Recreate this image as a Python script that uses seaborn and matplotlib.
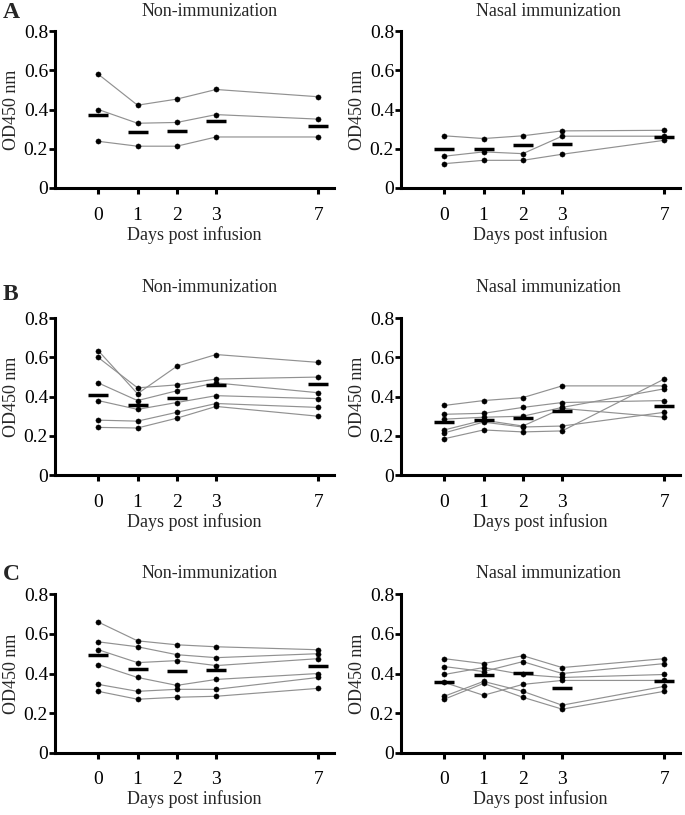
import matplotlib
matplotlib.use("Agg")
import matplotlib.pyplot as plt
import seaborn as sns
import pandas as pd
import numpy as np

sns.set_theme(style="ticks")
plt.rcParams['font.family'] = ['Liberation Serif', 'DejaVu Serif']

days = [0, 1, 2, 3, 7]
day_tick_labels = ["0", "1", "2", "3", "7"]
y_ticks = [0, 0.2, 0.4, 0.6, 0.8]
y_tick_labels = ["0", "0.2", "0.4", "0.6", "0.8"]

# Panel A
a_non = [
    [0.58, 0.422, 0.453, 0.502, 0.465],
    [0.40, 0.330, 0.334, 0.374, 0.351],
    [0.238, 0.213, 0.213, 0.260, 0.260],
]
a_non_mean = [0.371, 0.283, 0.289, 0.342, 0.315]
a_nasal = [
    [0.266, 0.252, 0.266, 0.291, 0.294],
    [0.162, 0.184, 0.175, 0.264, 0.264],
    [0.124, 0.141, 0.141, 0.172, 0.243],
]
a_nasal_mean = [0.197, 0.197, 0.220, 0.223, 0.260]

# Panel B
b_non = [
    [0.635, 0.415, 0.555, 0.615, 0.575],
    [0.600, 0.445, 0.460, 0.490, 0.500],
    [0.470, 0.380, 0.430, 0.470, 0.420],
    [0.380, 0.335, 0.370, 0.405, 0.390],
    [0.280, 0.275, 0.320, 0.365, 0.345],
    [0.243, 0.240, 0.290, 0.350, 0.300],
]
b_non_mean = [0.410, 0.355, 0.395, 0.460, 0.465]
b_nasal = [
    [0.355, 0.380, 0.395, 0.455, 0.455],
    [0.310, 0.315, 0.345, 0.370, 0.380],
    [0.285, 0.295, 0.300, 0.345, 0.440],
    [0.230, 0.280, 0.250, 0.340, 0.295],
    [0.215, 0.270, 0.245, 0.250, 0.320],
    [0.185, 0.230, 0.220, 0.225, 0.490],
]
b_nasal_mean = [0.272, 0.280, 0.290, 0.325, 0.352]

# Panel C
c_non = [
    [0.660, 0.565, 0.545, 0.535, 0.520],
    [0.560, 0.535, 0.495, 0.480, 0.500],
    [0.520, 0.455, 0.465, 0.440, 0.475],
    [0.445, 0.380, 0.340, 0.370, 0.400],
    [0.345, 0.310, 0.320, 0.320, 0.380],
    [0.310, 0.270, 0.280, 0.285, 0.325],
]
c_non_mean = [0.495, 0.425, 0.415, 0.420, 0.440]
c_nasal = [
    [0.475, 0.450, 0.490, 0.430, 0.475],
    [0.435, 0.410, 0.460, 0.400, 0.450],
    [0.395, 0.430, 0.395, 0.380, 0.395],
    [0.355, 0.290, 0.345, 0.365, 0.365],
    [0.285, 0.360, 0.310, 0.240, 0.335],
    [0.270, 0.350, 0.280, 0.220, 0.310],
]
c_nasal_mean = [0.358, 0.392, 0.405, 0.325, 0.362]

panels = [
    ("A", "Non-immunization", a_non, a_non_mean, "Nasal immunization", a_nasal, a_nasal_mean),
    ("B", "Non-immunization", b_non, b_non_mean, "Nasal immunization", b_nasal, b_nasal_mean),
    ("C", "Non-immunization", c_non, c_non_mean, "Nasal immunization", c_nasal, c_nasal_mean),
]

# layout: x positions on the axis (day 7 placed after a gap)
x_pos = {0: 0.0, 1: 1.0, 2: 2.0, 3: 3.0, 7: 5.6}

W, H = 685, 815
fig = plt.figure(figsize=(W / 100, H / 100), dpi=100)

row_geom = [(31, 188), (318.3, 475), (594.3, 752.7)]  # (top px, bottom px)
col_left = [55, 401]
ax_w = 279
title_y = [12, 288, 573]
title_x = [210, 548]
letter_y = [13, 295, 575]


def long_df(series):
    rows = []
    for sid, vals in enumerate(series):
        for d, v in zip(days, vals):
            rows.append({"subject": sid, "day": d, "x": x_pos[d], "od": v})
    return pd.DataFrame(rows)


for r, (letter, t1, s1, m1, t2, s2, m2) in enumerate(panels):
    top, bot = row_geom[r]
    for c, (title, series, means) in enumerate([(t1, s1, m1), (t2, s2, m2)]):
        ax = fig.add_axes([col_left[c] / W, 1 - bot / H, ax_w / W, (bot - top) / H])
        df = long_df(series)
        sns.lineplot(data=df, x="x", y="od", units="subject", estimator=None,
                     color="#919191", linewidth=0.85, ax=ax, legend=False)
        sns.scatterplot(data=df, x="x", y="od", color="black", s=14,
                        edgecolor="black", linewidth=0.3, ax=ax, legend=False, zorder=3)
        mdf = pd.DataFrame({"x": [x_pos[d] for d in days], "od": means})
        sns.scatterplot(data=mdf, x="x", y="od", marker="_", s=190, color="black",
                        linewidth=2.5, ax=ax, legend=False, zorder=4)
        ax.set_xlim(-1.1, 6.0)
        ax.set_ylim(0, 0.8)
        ax.set_xticks([x_pos[d] for d in days])
        ax.set_xticklabels(day_tick_labels)
        ax.set_yticks(y_ticks)
        ax.set_yticklabels(y_tick_labels)
        for sp in ["top", "right"]:
            ax.spines[sp].set_visible(False)
        for sp in ["left", "bottom"]:
            ax.spines[sp].set_linewidth(2.2)
            ax.spines[sp].set_color("black")
        ax.tick_params(axis="x", length=4.5, width=2.2, pad=9, labelsize=14, colors="black")
        ax.tick_params(axis="y", length=4, width=2.0, pad=1, labelsize=14, colors="black")
        ax.set_xlabel("Days post infusion", fontsize=13, labelpad=1.5)
        ax.set_ylabel("OD450 nm", fontsize=13, labelpad=3)
        ax.patch.set_alpha(0)
        fig.text(title_x[c] / W, 1 - title_y[r] / H, title, ha="center", va="center",
                 fontsize=13)
    fig.text(3 / W, 1 - letter_y[r] / H, letter, ha="left", va="center",
             fontsize=17, fontweight="bold")

fig.savefig("out.png", dpi=100)
